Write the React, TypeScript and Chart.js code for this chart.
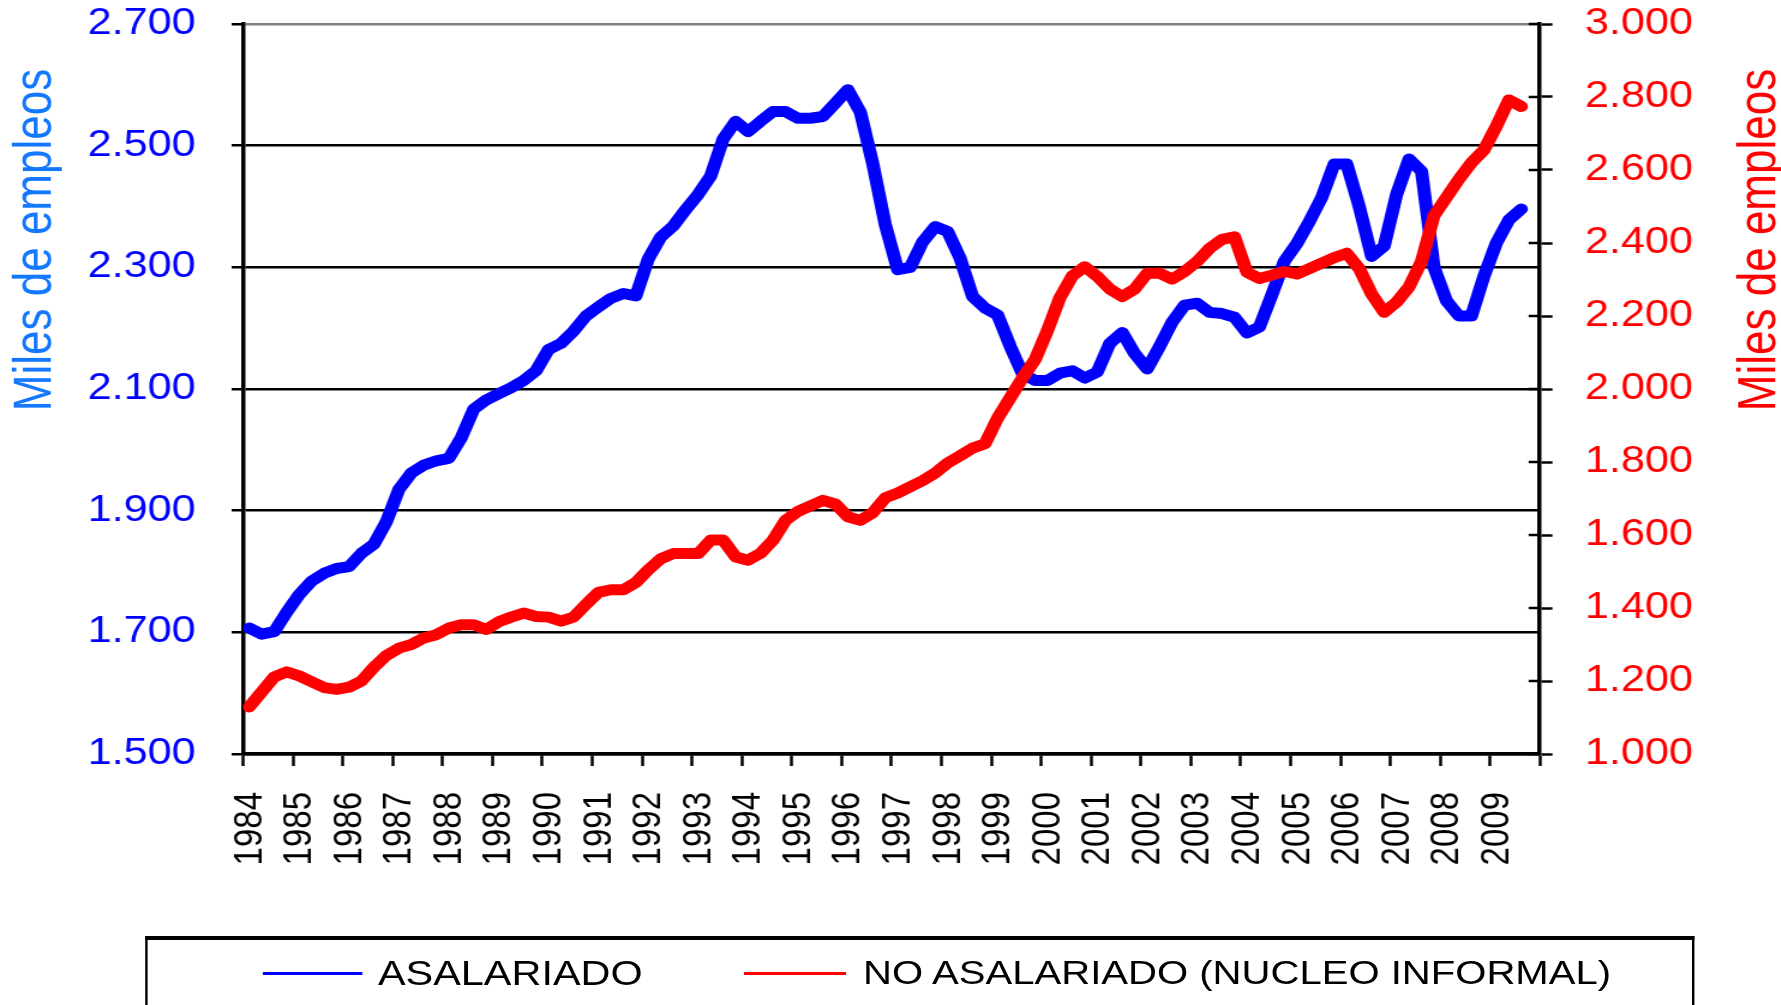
import React, { useEffect, useRef } from "react";
import { Chart, registerables } from "chart.js";

Chart.register(...registerables);

// ---------- data ----------
const yearLabels = [
  "1984", "1985", "1986", "1987", "1988", "1989", "1990", "1991", "1992",
  "1993", "1994", "1995", "1996", "1997", "1998", "1999", "2000", "2001",
  "2002", "2003", "2004", "2005", "2006", "2007", "2008", "2009",
];

// quarterly, 1984 Q1 .. 2009 Q3 (miles de empleos)
const asalariado = [
  1707, 1697, 1701, 1733, 1762, 1784, 1797, 1805, 1808, 1830, 1845, 1882,
  1935, 1962, 1975, 1982, 1986, 2020, 2067, 2082, 2092, 2102, 2114, 2130,
  2165, 2175, 2195, 2220, 2235, 2249, 2257, 2253, 2314, 2350, 2368, 2395,
  2420, 2450, 2511, 2540, 2523, 2540, 2556, 2556, 2545, 2545, 2548, 2570,
  2592, 2555, 2470, 2370, 2296, 2300, 2342, 2367, 2359, 2315, 2252, 2233,
  2222, 2171, 2125, 2114, 2114, 2126, 2130, 2118, 2128, 2175, 2193, 2158,
  2133, 2170, 2210, 2238, 2241, 2226, 2224, 2218, 2192, 2202, 2255, 2310,
  2339, 2375, 2415, 2470, 2470, 2400, 2318, 2335, 2420, 2478, 2458, 2300,
  2245, 2220, 2220, 2285, 2340, 2378, 2396,
];

const noAsalariado = [
  1129, 1170, 1211, 1225, 1214, 1198, 1182, 1177, 1183, 1200, 1238, 1270,
  1290, 1300, 1318, 1327, 1345, 1354, 1354, 1341, 1362, 1375, 1386, 1377,
  1375, 1364, 1375, 1410, 1443, 1450, 1450, 1470, 1505, 1535, 1549, 1549,
  1549, 1586, 1586, 1540, 1531, 1550, 1586, 1640, 1665, 1680, 1695, 1685,
  1650, 1640, 1661, 1702, 1715, 1732, 1749, 1770, 1797, 1817, 1838, 1850,
  1920, 1975, 2030, 2080, 2160, 2250, 2310, 2335, 2308, 2274, 2253, 2274,
  2317, 2317, 2301, 2322, 2349, 2385, 2410, 2417, 2320, 2303, 2312, 2322,
  2315, 2330, 2345, 2360, 2372, 2330, 2260, 2210, 2238, 2280, 2350, 2475,
  2525, 2575, 2620, 2655, 2720, 2792, 2774,
];

const seriesNames = ["ASALARIADO", "NO ASALARIADO (NUCLEO INFORMAL)"];
const axisTitle = "Miles de empleos";

// ---------- layout ----------
const S = 1.2; // horizontal stretch of the whole picture
const W = 1781 / S;
const H = 1005;
const PLOT_LEFT = 243 / S;
const PLOT_RIGHT = 1540 / S;
const PLOT_TOP = 24;
const PLOT_BOTTOM = 754;
const FONT = "'Liberation Sans', Arial, Helvetica, sans-serif";

const fmt = (v: number) => {
  const s = String(Math.round(v));
  return s.length > 3 ? s.slice(0, s.length - 3) + "." + s.slice(-3) : s;
};

const innerRightTicks = {
  id: "innerRightTicks",
  afterDraw(chart: any) {
    const y1 = chart.scales.y1;
    const ctx = chart.ctx;
    const r = chart.chartArea.right;
    ctx.save();
    ctx.strokeStyle = "#000";
    ctx.lineWidth = 2.5;
    y1.ticks.forEach((t: any) => {
      const y = y1.getPixelForValue(t.value);
      ctx.beginPath();
      ctx.moveTo(r - 9.5, y);
      ctx.lineTo(r, y);
      ctx.stroke();
    });
    ctx.restore();
  },
};

// pins the plot area to the reference position
const pinArea = {
  id: "pinArea",
  afterLayout(chart: any) {
    const a = chart.chartArea;
    a.top = PLOT_TOP;
    a.bottom = PLOT_BOTTOM;
    a.left = PLOT_LEFT;
    a.right = PLOT_RIGHT;
    a.width = a.right - a.left;
    a.height = a.bottom - a.top;
    const sc = chart.scales;
    const fixV = (s: any) => {
      s.top = PLOT_TOP;
      s.bottom = PLOT_BOTTOM;
      s.height = PLOT_BOTTOM - PLOT_TOP;
      s.configure();
    };
    fixV(sc.y);
    fixV(sc.y1);
    sc.x.top = PLOT_BOTTOM;
    sc.x.left = PLOT_LEFT;
    sc.x.right = PLOT_RIGHT;
    sc.x.width = PLOT_RIGHT - PLOT_LEFT;
    sc.x.configure();
  },
};

export default function App() {
  const ref = useRef<HTMLCanvasElement | null>(null);

  useEffect(() => {
    if (!ref.current) return;
    const toPts = (arr: number[]) => arr.map((v, i) => ({ x: i + 0.5, y: v }));
    const chart = new Chart(ref.current, {
      type: "line",
      data: {
        datasets: [
          {
            label: seriesNames[0],
            data: toPts(asalariado),
            yAxisID: "y",
            borderColor: "#0000FF",
            backgroundColor: "#0000FF",
            borderWidth: 11,
            pointRadius: 0,
            borderJoinStyle: "round",
            borderCapStyle: "round",
            tension: 0,
            order: 1,
          },
          {
            label: seriesNames[1],
            data: toPts(noAsalariado),
            yAxisID: "y1",
            borderColor: "#FF0000",
            backgroundColor: "#FF0000",
            borderWidth: 11,
            pointRadius: 0,
            borderJoinStyle: "round",
            borderCapStyle: "round",
            tension: 0,
            order: 0,
          },
        ],
      },
      options: {
        animation: false,
        responsive: false,
        maintainAspectRatio: false,
        devicePixelRatio: 1,
        layout: { padding: { top: 0, left: 0, right: 0, bottom: 0 } },
        plugins: {
          legend: { display: false },
          tooltip: { enabled: false },
          title: { display: false },
        },
        scales: {
          x: {
            type: "linear",
            position: "bottom",
            min: 0,
            max: 104,
            afterFit: (s: any) => {
              s.height = H - PLOT_BOTTOM;
            },
            afterBuildTicks: (s: any) => {
              const t = [];
              for (let v = 0; v <= 104; v += 4) t.push({ value: v });
              s.ticks = t;
            },
            ticks: {
              autoSkip: false,
              maxRotation: 90,
              minRotation: 90,
              padding: 26,
              labelOffset: 6,
              color: "#000",
              font: { family: FONT, size: 33 },
              callback: (v: any) => {
                const i = Math.round(Number(v) / 4);
                return i < yearLabels.length ? yearLabels[i] : "";
              },
            },
            grid: {
              drawOnChartArea: false,
              drawTicks: true,
              tickLength: 12,
              tickWidth: 2.5,
              tickColor: "#000",
            },
            border: { display: true, color: "#000", width: 3.5 },
          },
          y: {
            type: "linear",
            position: "left",
            min: 1500,
            max: 2700,
            afterFit: (s: any) => {
              s.width = PLOT_LEFT;
            },
            ticks: {
              stepSize: 200,
              padding: 30,
              color: "#0000FF",
              font: { family: FONT, size: 36 },
              callback: (v: any) => fmt(Number(v)),
            },
            grid: {
              color: (c: any) => (c.tick && c.tick.value === 2700 ? "#808080" : "#000"),
              lineWidth: 2.5,
              drawTicks: true,
              tickLength: 9.5,
              tickWidth: 2.5,
              tickColor: "#000",
            },
            border: { display: true, color: "#000", width: 3.5 },
          },
          y1: {
            type: "linear",
            position: "right",
            min: 1000,
            max: 3000,
            afterFit: (s: any) => {
              s.width = W - PLOT_RIGHT;
            },
            ticks: {
              stepSize: 200,
              padding: 27,
              color: "#FF0000",
              font: { family: FONT, size: 36 },
              callback: (v: any) => fmt(Number(v)),
            },
            grid: {
              drawOnChartArea: false,
              drawTicks: true,
              tickLength: 10.5,
              tickWidth: 2.5,
              tickColor: "#000",
            },
            border: { display: true, color: "#000", width: 3.5 },
          },
        },
      },
      plugins: [pinArea, innerRightTicks],
    } as any);
    return () => chart.destroy();
  }, []);

  const titleStyle = (cx: number, color: string): React.CSSProperties => ({
    position: "absolute",
    left: cx - 250,
    top: 240 - 28,
    width: 500,
    height: 56,
    lineHeight: "56px",
    textAlign: "center",
    transform: "rotate(-90deg)",
    transformOrigin: "50% 50%",
    fontFamily: FONT,
    fontSize: 44,
    color,
    whiteSpace: "nowrap",
  });

  const legendText: React.CSSProperties = {
    position: "absolute",
    top: 973 - 21,
    height: 42,
    lineHeight: "42px",
    fontFamily: FONT,
    fontSize: 34.5,
    color: "#000",
    whiteSpace: "nowrap",
  };

  return (
    <div
      style={{
        position: "fixed",
        left: 0,
        top: 0,
        width: 1781,
        height: 1005,
        overflow: "hidden",
        background: "#fff",
      }}
    >
      <div
        style={{
          position: "absolute",
          left: 0,
          top: 0,
          width: W,
          height: H,
          transform: `scaleX(${S})`,
          transformOrigin: "0 0",
        }}
      >
        <canvas
          ref={ref}
          width={Math.round(W)}
          height={H}
          style={{ position: "absolute", left: 0, top: 0, width: Math.round(W), height: H }}
        />
        <div style={titleStyle(32 / S, "#1478FF")}>{axisTitle}</div>
        <div style={titleStyle(1757 / S, "#FF0000")}>{axisTitle}</div>
        <div
          style={{
            position: "absolute",
            left: 145 / S,
            top: 936,
            width: (1695 - 145) / S,
            height: 120,
            borderTop: "4px solid #000",
            borderLeft: "2px solid #000",
            borderRight: "2px solid #000",
            boxSizing: "border-box",
          }}
        />
        <div style={{ position: "absolute", left: 263 / S, top: 971.5, width: 100 / S, height: 3, background: "#0000FF" }} />
        <div style={{ ...legendText, left: 378 / S }}>{seriesNames[0]}</div>
        <div style={{ position: "absolute", left: 744 / S, top: 971.5, width: 102 / S, height: 3, background: "#FF0000" }} />
        <div style={{ ...legendText, left: 863 / S, fontSize: 33.4 }}>{seriesNames[1]}</div>
      </div>
    </div>
  );
}
